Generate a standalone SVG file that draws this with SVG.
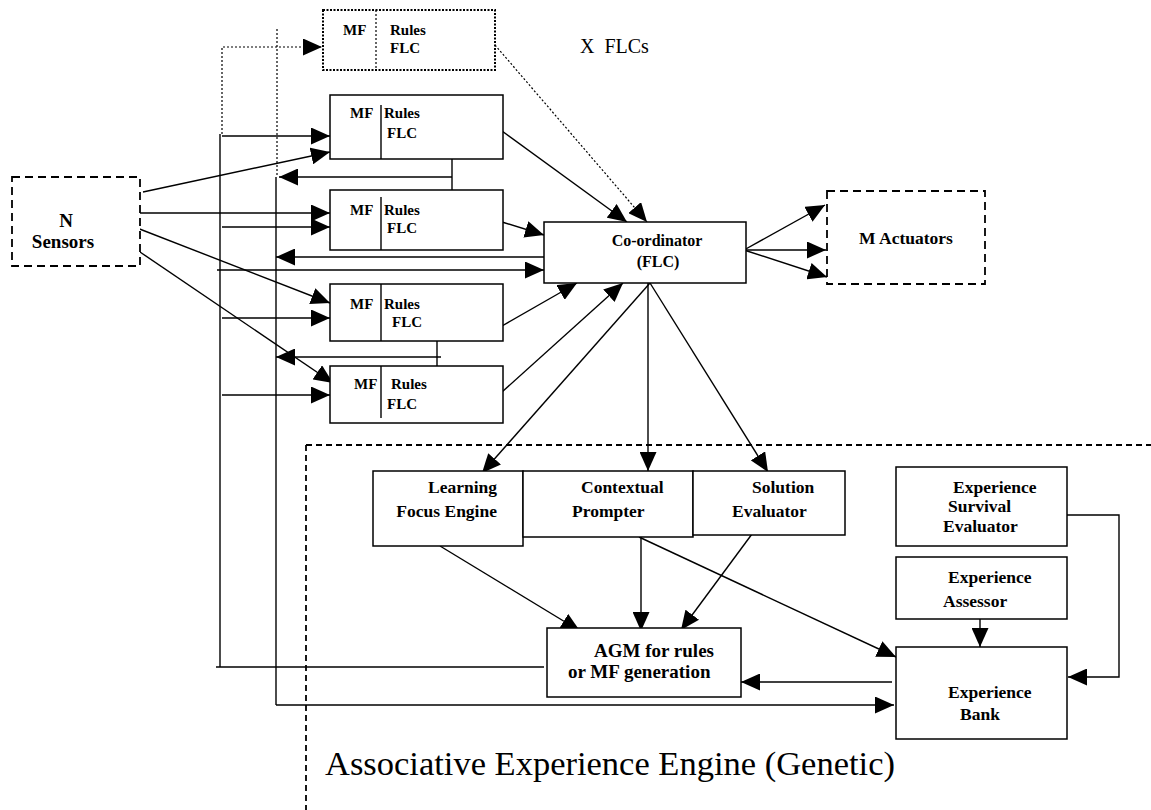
<svg xmlns="http://www.w3.org/2000/svg" width="1151" height="810" viewBox="0 0 1151 810">
<defs>
<marker id="ah" markerUnits="userSpaceOnUse" markerWidth="19" markerHeight="17" refX="19" refY="8.5" orient="auto">
<path d="M0,0 L19,8.5 L0,17 z" fill="#000"/>
</marker>
</defs>
<style>
.box{fill:#fff;stroke:#000;stroke-width:1.5}
.dash{fill:#fff;stroke:#000;stroke-width:1.8;stroke-dasharray:8 5}
.dot{fill:none;stroke:#000;stroke-width:2;stroke-dasharray:2 1.5}
.ln{fill:none;stroke:#000;stroke-width:1.4}
.dl{fill:none;stroke:#000;stroke-width:1.2;stroke-dasharray:2 2}
.enc{fill:none;stroke:#000;stroke-width:1.8;stroke-dasharray:6 4}
.arr{marker-end:url(#ah)}
.b15{font-family:"Liberation Serif",serif;font-weight:bold;font-size:15px}
.b16{font-family:"Liberation Serif",serif;font-weight:bold;font-size:16px}
.b17{font-family:"Liberation Serif",serif;font-weight:bold;font-size:17.5px}
.b19{font-family:"Liberation Serif",serif;font-weight:bold;font-size:19px}
.r20{font-family:"Liberation Serif",serif;font-size:20px}
.r34{font-family:"Liberation Serif",serif;font-size:34.5px}
</style>
<rect width="1151" height="810" fill="#fff"/>

<g id="enclosure">
<line class="enc" x1="306" y1="445" x2="1151" y2="445"/>
<line class="enc" x1="306" y1="445" x2="306" y2="810"/>
</g>

<g id="connectors">
<polyline class="dl arr" points="222,134 222,47 322,47"/>
<line class="dl" x1="277" y1="29" x2="277" y2="177"/>
<line class="dl arr" x1="495" y1="45" x2="647" y2="222"/>
<line class="ln" x1="220" y1="134" x2="220" y2="667"/>
<polyline class="ln" points="276,177 276,705"/>
<line class="ln arr" x1="276" y1="705" x2="894" y2="705"/>
<line class="ln" x1="216" y1="667" x2="544" y2="667"/>
<line class="ln arr" x1="222" y1="136" x2="330" y2="136"/>
<line class="ln arr" x1="222" y1="227" x2="330" y2="227"/>
<line class="ln arr" x1="222" y1="318" x2="330" y2="318"/>
<line class="ln arr" x1="222" y1="395" x2="330" y2="395"/>
<line class="ln arr" x1="217" y1="270" x2="544" y2="270"/>
<line class="ln arr" x1="544" y1="257" x2="276" y2="257"/>
<line class="ln arr" x1="143" y1="192" x2="330" y2="152"/>
<line class="ln arr" x1="138" y1="213" x2="330" y2="213"/>
<line class="ln arr" x1="137" y1="228" x2="330" y2="303"/>
<line class="ln arr" x1="140" y1="252" x2="333" y2="383"/>
<line class="ln" x1="452" y1="155" x2="452" y2="193"/>
<line class="ln arr" x1="452" y1="177" x2="279" y2="177"/>
<line class="ln" x1="437" y1="339" x2="437" y2="368"/>
<line class="ln arr" x1="441" y1="357" x2="276" y2="357"/>
<line class="ln arr" x1="502" y1="131" x2="627" y2="222"/>
<line class="ln arr" x1="502" y1="222" x2="544" y2="235"/>
<line class="ln arr" x1="502" y1="326" x2="577" y2="283"/>
<line class="ln arr" x1="502" y1="392" x2="623" y2="283"/>
<line class="ln arr" x1="744" y1="250" x2="825" y2="205"/>
<line class="ln arr" x1="744" y1="250" x2="826" y2="250"/>
<line class="ln arr" x1="744" y1="250" x2="827" y2="277"/>
<line class="ln arr" x1="650" y1="283" x2="482" y2="473"/>
<line class="ln arr" x1="648" y1="283" x2="648" y2="471"/>
<line class="ln arr" x1="650" y1="283" x2="768" y2="472"/>
<line class="ln arr" x1="440" y1="546" x2="580" y2="631"/>
<line class="ln arr" x1="641" y1="537" x2="641" y2="631"/>
<line class="ln arr" x1="752" y1="534" x2="681" y2="630"/>
<line class="ln arr" x1="639" y1="537" x2="896" y2="657"/>
<line class="ln arr" x1="892" y1="682" x2="741" y2="682"/>
<line class="ln arr" x1="980" y1="619" x2="980" y2="647"/>
<polyline class="ln arr" points="1066,515 1119,515 1119,677 1068,677"/>
</g>

<g id="flc-x">
<rect class="dot" x="323" y="10" width="172" height="60"/>
<line class="dl" x1="376" y1="10" x2="376" y2="70"/>
<text class="b15" x="343" y="35">MF</text>
<text class="b15" x="390" y="35">Rules</text>
<text class="b15" x="390" y="53">FLC</text>
</g>
<text id="x-flcs" class="r20" x="580" y="53" xml:space="preserve">X  FLCs</text>

<g id="flc1">
<rect class="box" x="330" y="95" width="173" height="64"/>
<line class="ln" x1="381" y1="105" x2="381" y2="159"/>
<text class="b15" x="350" y="118">MF</text>
<text class="b15" x="384" y="118">Rules</text>
<text class="b15" x="387" y="138">FLC</text>
</g>
<g id="flc2">
<rect class="box" x="330" y="190" width="173" height="60"/>
<line class="ln" x1="381" y1="197" x2="381" y2="250"/>
<text class="b15" x="350" y="215">MF</text>
<text class="b15" x="384" y="215">Rules</text>
<text class="b15" x="387" y="233">FLC</text>
</g>
<g id="flc3">
<rect class="box" x="330" y="284" width="173" height="57"/>
<line class="ln" x1="381" y1="284" x2="381" y2="341"/>
<text class="b15" x="350" y="309">MF</text>
<text class="b15" x="384" y="309">Rules</text>
<text class="b15" x="392" y="327">FLC</text>
</g>
<g id="flc4">
<rect class="box" x="330" y="366" width="173" height="57"/>
<line class="ln" x1="381" y1="366" x2="381" y2="418"/>
<text class="b15" x="354" y="389">MF</text>
<text class="b15" x="391" y="389">Rules</text>
<text class="b15" x="387" y="409">FLC</text>
</g>

<g id="sensors">
<rect class="dash" x="12" y="177" width="128" height="89"/>
<text class="b19" x="66" y="227" text-anchor="middle">N</text>
<text class="b19" x="63" y="248" text-anchor="middle">Sensors</text>
</g>

<g id="coordinator">
<rect class="box" x="544" y="222" width="202" height="61"/>
<text class="b16" x="657" y="246" text-anchor="middle">Co-ordinator</text>
<text class="b16" x="658" y="267" text-anchor="middle">(FLC)</text>
</g>

<g id="actuators">
<rect class="dash" x="827" y="191" width="158" height="93"/>
<text class="b17" x="906" y="244" text-anchor="middle">M Actuators</text>
</g>

<g id="learning">
<rect class="box" x="373" y="471" width="150" height="75"/>
<text class="b17" x="497" y="493" text-anchor="end">Learning</text>
<text class="b17" x="497" y="517" text-anchor="end">Focus Engine</text>
</g>
<g id="contextual">
<rect class="box" x="523" y="471" width="170" height="66"/>
<text class="b17" x="581" y="493">Contextual</text>
<text class="b17" x="572" y="517">Prompter</text>
</g>
<g id="solution">
<rect class="box" x="693" y="471" width="152" height="64"/>
<text class="b17" x="752" y="493">Solution</text>
<text class="b17" x="732" y="517">Evaluator</text>
</g>

<g id="survival">
<rect class="box" x="896" y="467" width="171" height="79"/>
<text class="b17" x="953" y="493">Experience</text>
<text class="b17" x="948" y="512">Survival</text>
<text class="b17" x="943" y="532">Evaluator</text>
</g>
<g id="assessor">
<rect class="box" x="896" y="557" width="171" height="62"/>
<text class="b17" x="948" y="583">Experience</text>
<text class="b17" x="943" y="607">Assessor</text>
</g>
<g id="bank">
<rect class="box" x="896" y="647" width="171" height="92"/>
<text class="b17" x="948" y="698">Experience</text>
<text class="b17" x="960" y="720">Bank</text>
</g>
<g id="agm">
<rect class="box" x="547" y="628" width="194" height="69"/>
<text class="b19" x="594" y="657">AGM for rules</text>
<text class="b19" x="568" y="678">or MF generation</text>
</g>

<text id="title" class="r34" x="325" y="775">Associative Experience Engine (Genetic)</text>
</svg>
